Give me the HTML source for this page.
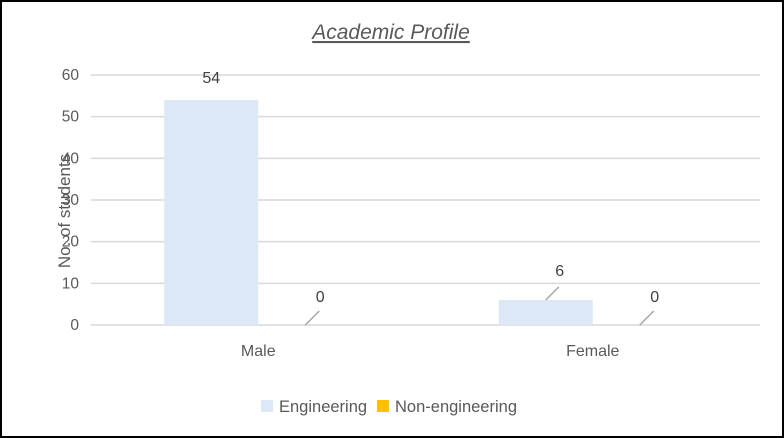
<!DOCTYPE html>
<html><head><meta charset="utf-8"><style>
html,body{margin:0;padding:0;background:#fff}
svg{display:block;font-family:"Liberation Sans",sans-serif}
</style></head><body>
<svg width="784" height="438" viewBox="0 0 784 438">
<rect x="1" y="1" width="782" height="436" fill="#fff" stroke="#000" stroke-width="2"/>
<text x="391" y="39" text-anchor="middle" font-size="21" font-style="italic" fill="#595959" text-decoration="underline">Academic Profile</text>
<g id="grid"></g><g id="bars"></g><g id="labels"></g>
<text transform="translate(70,211) rotate(-90)" text-anchor="middle" font-size="17" fill="#595959">No. of students</text>
<g>
<rect x="261" y="400" width="12" height="12" fill="#dce8f5"/>
<text x="279" y="412" font-size="16.5" fill="#595959">Engineering</text>
<rect x="377" y="400" width="12" height="12" fill="#ffc000"/>
<text x="395" y="412" font-size="16.5" fill="#595959">Non-engineering</text>
</g>
</svg>
<script>
const categories=["Male","Female"];
const engineering=[54,6];
const nonEngineering=[0,0];
const yTicks=[0,10,20,30,40,50,60];
const ns="http://www.w3.org/2000/svg";
const x0=91,x1=760,yTop=75,yBot=325,yMax=60;
const y=v=>yBot-(v/yMax)*(yBot-yTop);
const catW=(x1-x0)/categories.length;
function mk(t,a,p){const e=document.createElementNS(ns,t);for(const k in a)e.setAttribute(k,a[k]);p.appendChild(e);return e;}
const grid=document.getElementById('grid'),bars=document.getElementById('bars'),labels=document.getElementById('labels');
yTicks.forEach(v=>{
 const l=mk('line',{x1:x0,x2:x1,y1:y(v),y2:y(v),stroke:'#d9d9d9','stroke-width':1.5},grid);
 
 
 const t=mk('text',{x:79,y:y(v)+5,'text-anchor':'end','font-size':15.5,fill:'#595959'},grid);
 t.textContent=v;
 
 
});
categories.forEach((c,i)=>{
 const cx=x0+catW*(i+0.5);
 const bw=94;
 const e=mk('rect',{x:cx-bw,y:y(engineering[i]),width:bw,height:yBot-y(engineering[i]),fill:'#dce8f5'},bars);
 
 
 const n=mk('rect',{x:cx,y:y(nonEngineering[i]),width:bw,height:yBot-y(nonEngineering[i]),fill:'#ffc000'},bars);
 
 
 const ex=cx-bw/2, ey=y(engineering[i]);
 if(engineering[i]<10){
  const ll=mk('line',{x1:ex,y1:ey,x2:ex+13,y2:ey-13,stroke:'#a6a6a6','stroke-width':1.5},labels);
  
  
  const t=mk('text',{x:ex+14,y:ey-24,'text-anchor':'middle','font-size':16,fill:'#404040'},labels);
  t.textContent=engineering[i];
  
  
 } else {
  const t=mk('text',{x:ex,y:ey-17,'text-anchor':'middle','font-size':16,fill:'#404040'},labels);
  t.textContent=engineering[i];
  
  
 }
 const nx=cx+bw/2, ny=y(nonEngineering[i]);
 const nl=mk('line',{x1:nx,y1:ny,x2:nx+14,y2:ny-14,stroke:'#a6a6a6','stroke-width':1.5},labels);
 
 
 const nt=mk('text',{x:nx+15,y:ny-23,'text-anchor':'middle','font-size':16,fill:'#404040'},labels);
 nt.textContent=nonEngineering[i];
 
 
 const ct=mk('text',{x:cx,y:356,'text-anchor':'middle','font-size':16,fill:'#595959'},labels);
 ct.textContent=c;
 
 
});
</script>
</body></html>
